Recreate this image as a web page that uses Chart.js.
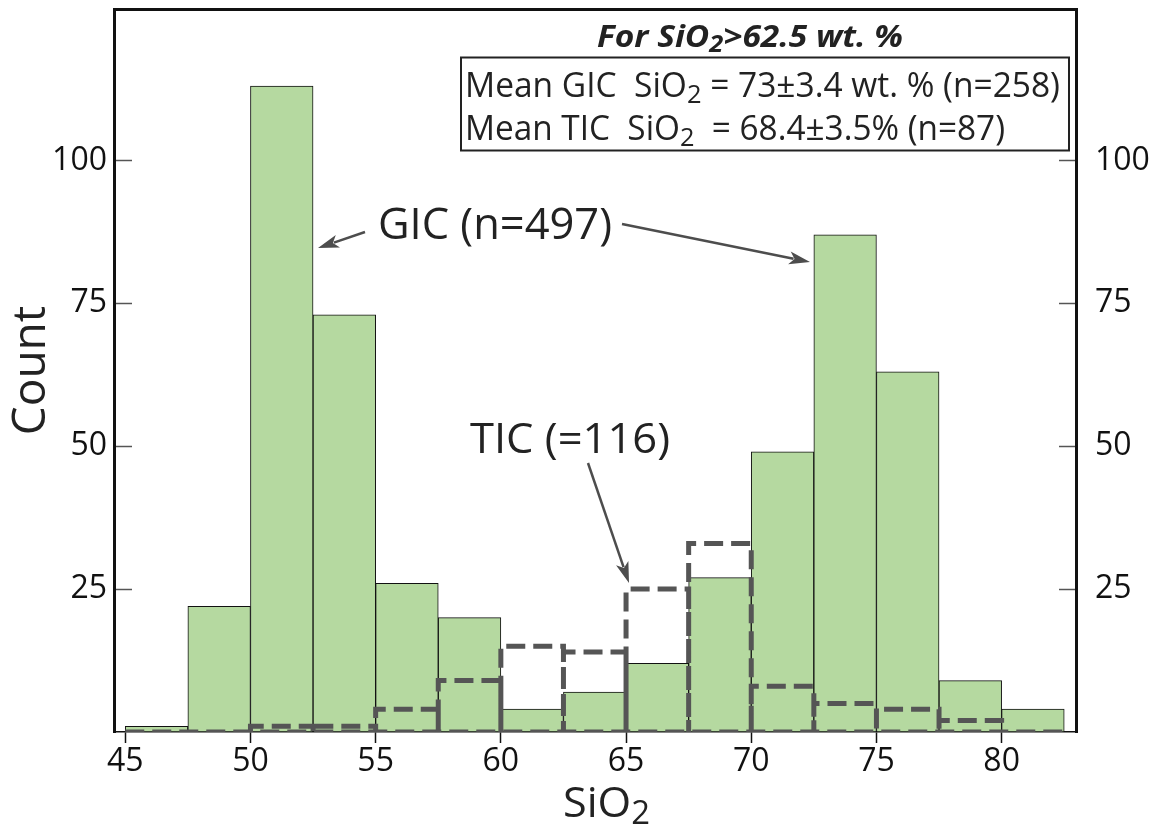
<!DOCTYPE html>
<html>
<head>
<meta charset="utf-8">
<script src="https://cdn.jsdelivr.net/npm/chart.js@4.4.0/dist/chart.umd.min.js"></script>
<style>
  html, body { margin: 0; padding: 0; background: #fff; }
</style>
</head>
<body>
<canvas id="sio2_hist" width="1159" height="832"></canvas>
<script>
// histogram bins (wt. % SiO2), 2.5 wide
const bin_width = 2.5;
const bin_starts = [45, 47.5, 50, 52.5, 55, 57.5, 60, 62.5, 65, 67.5, 70, 72.5, 75, 77.5, 80];
const gic_counts = [1, 22, 113, 73, 26, 20, 4, 7, 12, 27, 49, 87, 63, 9, 4];
const tic_counts = [0, 0, 1, 1, 4, 9, 15, 14, 25, 33, 8, 5, 4, 2, 0];
const x_ticks = [45, 50, 55, 60, 65, 70, 75, 80];
const y_ticks = [25, 50, 75, 100];

const FONT = "'Open Sans', 'Noto Sans', sans-serif";
const TEXT_COL = '#222';
Chart.defaults.font.family = FONT;

// green bars sit at bin centres
const gic_points = bin_starts.map((x0, i) => ({ x: x0 + bin_width / 2, y: gic_counts[i] }));

// TIC drawn as dashed outlines, one box per non-empty bin
let tic_outline = [];
bin_starts.forEach((x0, i) => {
    if (!tic_counts[i]) return;
    const x1 = x0 + bin_width;
    tic_outline.push({ x: x0, y: 0 }, { x: x0, y: tic_counts[i] }, { x: x1, y: tic_counts[i] }, { x: x1, y: 0 });
});
const tic_base = [{ x: bin_starts[0], y: 0 }, { x: bin_starts[bin_starts.length - 1] + bin_width, y: 0 }];

// text with subscripts, optionally squeezed to a target width
function drawRich(ctx, parts, x, y, size, style, width) {
    const subSize = size * 0.76;
    const setFont = (sub) => { ctx.font = style + ' ' + (sub ? subSize : size) + 'px ' + FONT; };
    let total = 0;
    parts.forEach(p => { setFont(p[1]); total += ctx.measureText(p[0]).width; });
    const k = width ? width / total : 1;
    ctx.save();
    ctx.translate(x, y);
    ctx.scale(k, 1);
    ctx.fillStyle = TEXT_COL;
    ctx.textBaseline = 'alphabetic';
    ctx.textAlign = 'left';
    let cx = 0;
    parts.forEach(p => {
        setFont(p[1]);
        ctx.fillText(p[0], cx, p[1] ? size * 0.17 : 0);
        cx += ctx.measureText(p[0]).width;
    });
    ctx.restore();
}

function arrow(ctx, x0, y0, x1, y1) {
    const ang = Math.atan2(y1 - y0, x1 - x0);
    const len = 21, half = 6.5;
    ctx.save();
    ctx.strokeStyle = '#4d4d4d';
    ctx.fillStyle = '#4d4d4d';
    ctx.lineWidth = 2.5;
    ctx.beginPath();
    ctx.moveTo(x0, y0);
    ctx.lineTo(x1 - Math.cos(ang) * len * 0.8, y1 - Math.sin(ang) * len * 0.8);
    ctx.stroke();
    ctx.beginPath();
    ctx.moveTo(x1, y1);
    ctx.lineTo(x1 - Math.cos(ang) * len - Math.sin(ang) * half, y1 - Math.sin(ang) * len + Math.cos(ang) * half);
    ctx.lineTo(x1 - Math.cos(ang) * len * 0.75, y1 - Math.sin(ang) * len * 0.75);
    ctx.lineTo(x1 - Math.cos(ang) * len + Math.sin(ang) * half, y1 - Math.sin(ang) * len - Math.cos(ang) * half);
    ctx.closePath();
    ctx.fill();
    ctx.restore();
}

const annotations = {
    id: 'annotations',
    afterDraw(chart) {
        const ctx = chart.ctx;
        // stats box
        drawRich(ctx, [['For SiO'], ['2', 1], ['>62.5 wt. %']], 597, 47, 30, 'italic bold', 306);
        ctx.save();
        ctx.strokeStyle = '#222';
        ctx.lineWidth = 2;
        ctx.strokeRect(461, 57.5, 608, 93);
        ctx.restore();
        drawRich(ctx, [['Mean GIC  SiO'], ['2', 1], [' = 73\u00b13.4 wt. % (n=258)']], 465, 97, 34, 'normal', 595);
        drawRich(ctx, [['Mean TIC  SiO'], ['2', 1], ['  = 68.4\u00b13.5% (n=87)']], 465, 140, 34, 'normal', 540);

        // labels + arrows
        drawRich(ctx, [['GIC (n=497)']], 378, 239, 43, 'normal', 234);
        arrow(ctx, 365, 232, 318, 248);
        arrow(ctx, 622, 224, 810, 262);
        drawRich(ctx, [['TIC (=116)']], 470, 453, 42, 'normal', 200);
        arrow(ctx, 588, 463, 629, 583);

        // x axis title
        drawRich(ctx, [['SiO'], ['2', 1]], 563, 817, 42, 'normal', 87);
    }
};

const tickFont = { family: FONT, size: 32 };

// chart.js pads the plot for the outer tick labels; the frame here goes edge to edge
function noPad(s) {
    s.paddingTop = 0;
    s.paddingBottom = 0;
    s.paddingLeft = 0;
    s.paddingRight = 0;
}

const histChart = new Chart(document.getElementById('sio2_hist').getContext('2d'), {
    type: 'bar',
    data: {
        datasets: [{
            label: 'GIC',
            data: gic_points,
            backgroundColor: '#b5d9a0',
            borderColor: '#111',
            borderWidth: 1,
            borderSkipped: false,
            barPercentage: 1,
            categoryPercentage: 1,
            order: 2
        }, {
            type: 'line',
            label: 'TIC',
            data: tic_outline,
            borderColor: '#555',
            borderWidth: 5,
            borderDash: [19, 8],
            borderJoinStyle: 'miter',
            pointRadius: 0,
            fill: false,
            tension: 0,
            order: 0
        }, {
            type: 'line',
            label: 'TIC base',
            data: tic_base,
            borderColor: '#555',
            borderWidth: 5,
            borderDash: [19, 8],
            pointRadius: 0,
            fill: false,
            order: 1
        }]
    },
    options: {
        responsive: false,
        animation: false,
        devicePixelRatio: 1,
        layout: { padding: 0 },
        plugins: { legend: { display: false }, tooltip: { enabled: false } },
        scales: {
            x: {
                type: 'linear',
                position: 'bottom',
                min: 44.55,
                max: 82.97,
                offset: false,
                afterBuildTicks: s => { s.ticks = x_ticks.map(v => ({ value: v })); },
                afterFit: s => { s.height = 100; noPad(s); },
                grid: { drawOnChartArea: false, offset: false, tickLength: 11, tickColor: '#111', tickWidth: 1.5 },
                border: { color: '#111', width: 1.5 },
                ticks: { font: tickFont, color: '#111', padding: 0, maxRotation: 0, autoSkip: false }
            },
            xTop: {
                axis: 'x',
                type: 'linear',
                position: 'top',
                min: 44.55,
                max: 82.97,
                offset: false,
                afterFit: s => { s.height = 9; noPad(s); },
                grid: { display: false },
                border: { color: '#111', width: 3 },
                ticks: { display: false }
            },
            y: {
                position: 'left',
                min: 0,
                max: 126.5,
                afterBuildTicks: s => { s.ticks = y_ticks.map(v => ({ value: v })); },
                afterFit: s => { s.width = 114; noPad(s); },
                grid: { drawOnChartArea: false, tickLength: -18, tickColor: '#555', tickWidth: 1.5 },
                border: { color: '#111', width: 3 },
                ticks: { font: tickFont, color: '#111', padding: 25 },
                title: { display: true, text: 'Count', color: TEXT_COL, font: { family: FONT, size: 46 }, padding: { top: 4, bottom: 0 } }
            },
            y2: {
                axis: 'y',
                position: 'right',
                min: 0,
                max: 126.5,
                afterBuildTicks: s => { s.ticks = y_ticks.map(v => ({ value: v })); },
                afterFit: s => { s.width = 83; noPad(s); },
                grid: { drawOnChartArea: false, tickLength: -17, tickColor: '#555', tickWidth: 1.5 },
                border: { color: '#111', width: 3 },
                ticks: { font: tickFont, color: '#111', padding: 36 }
            }
        }
    },
    plugins: [annotations]
});
</script>
</body>
</html>
